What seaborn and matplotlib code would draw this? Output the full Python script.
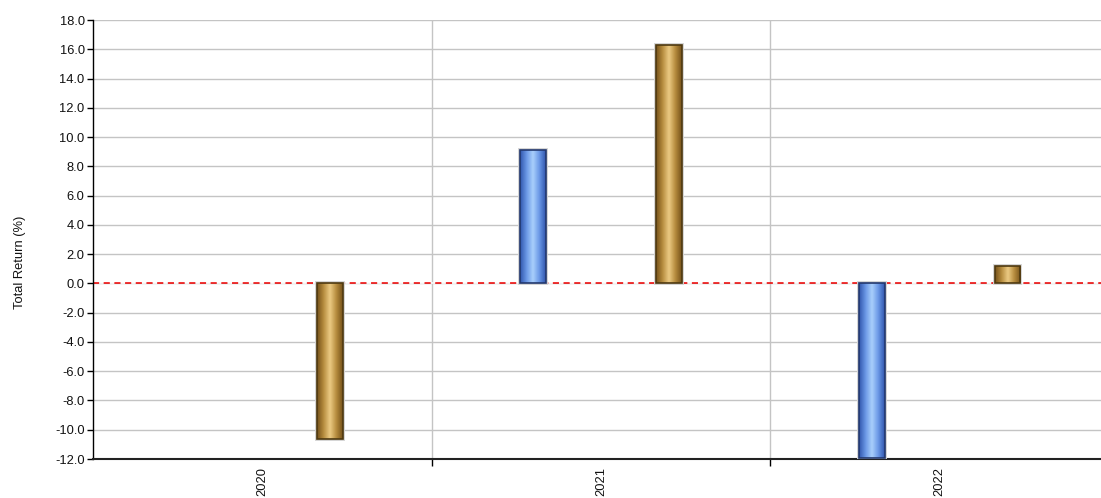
import numpy as np
import pandas as pd
import matplotlib
matplotlib.use("Agg")
import matplotlib.pyplot as plt
from matplotlib.colors import LinearSegmentedColormap
from matplotlib.ticker import MultipleLocator, FixedLocator, FormatStrFormatter
import seaborn as sns

# Annual total returns (%) for the fund and its benchmark
years = ["2020", "2021", "2022"]
fund_returns = [np.nan, 9.1, -11.9]
benchmark_returns = [-10.6, 16.3, 1.2]
series_names = ["Fund", "Benchmark"]

rows = []
for y, f, b in zip(years, fund_returns, benchmark_returns):
    if not np.isnan(f):
        rows.append({"year": y, "series": series_names[0], "ret": f})
    rows.append({"year": y, "series": series_names[1], "ret": b})
df = pd.DataFrame(rows)

sns.set_style("white")
plt.rcParams["font.family"] = ["Liberation Sans", "DejaVu Sans"]

fig = plt.figure(figsize=(11.01, 4.98), dpi=100)
ax = fig.add_axes([93 / 1101, 39 / 498, 1016 / 1101, 439 / 498])

palette = {"Fund": "#5b8be0", "Benchmark": "#c9a050"}
edge_dark = {"Fund": "#23386e", "Benchmark": "#4e3910"}
sns.barplot(data=df, x="year", y="ret", hue="series", order=years,
            hue_order=series_names, palette=palette, saturation=1,
            dodge=True, gap=0.81, width=0.8, legend=False, ax=ax,
            zorder=3, errorbar=None)

# cylindrical shading for each bar, with a faint grey halo
cmaps = {
    "Fund": LinearSegmentedColormap.from_list(
        "blue_cyl", ["#3156ad", "#6a97e6", "#aad0fc", "#6a97e6", "#3156ad"]),
    "Benchmark": LinearSegmentedColormap.from_list(
        "gold_cyl", ["#76521a", "#b68c3e", "#eccb84", "#b68c3e", "#76521a"]),
}
grad = np.linspace(0, 1, 64).reshape(1, -1)
for name, container in zip(series_names, ax.containers):
    for patch in container:
        h = patch.get_height()
        if h == 0 or np.isnan(h):
            continue
        x0, w, y0 = patch.get_x(), patch.get_width(), patch.get_y()
        halo = plt.Rectangle((x0, y0), w, h, facecolor="none",
                             edgecolor="#d4d4d4", linewidth=2.8, zorder=3.2)
        ax.add_patch(halo)
        img = ax.imshow(grad, cmap=cmaps[name], aspect="auto",
                        extent=[x0, x0 + w, y0, y0 + h], zorder=3.5,
                        interpolation="bicubic")
        img.set_clip_path(patch)
        patch.set_facecolor("none")
        patch.set_edgecolor(edge_dark[name])
        patch.set_linewidth(1.2)
        patch.set_zorder(4)

ax.set_xlim(-0.5, 2.5)
ax.set_ylim(-12, 18)
ax.yaxis.set_major_locator(MultipleLocator(2))
ax.yaxis.set_major_formatter(FormatStrFormatter("%.1f"))
ax.xaxis.set_minor_locator(FixedLocator([0.5, 1.5]))

ax.grid(axis="y", which="major", color="#c4c4c4", linewidth=1, zorder=0)
ax.grid(axis="x", which="minor", color="#c4c4c4", linewidth=1, zorder=0)
ax.grid(axis="x", which="major", visible=False)
ax.set_axisbelow(True)

# zero reference line
ax.axhline(0, color="#f00000", linestyle=(0, (4, 3)), gapcolor="white",
           linewidth=1.1, zorder=2.5)

for s in ["top", "right"]:
    ax.spines[s].set_visible(False)
ax.spines["left"].set_color("black")
ax.spines["left"].set_linewidth(1)
ax.spines["bottom"].set_color("#222222")
ax.spines["bottom"].set_linewidth(1.5)

ax.tick_params(axis="y", which="major", direction="out", length=4, width=1,
               color="black", labelsize=9.3, labelcolor="#111111", pad=2, left=True)
ax.tick_params(axis="x", which="major", length=0, labelsize=9.3,
               labelcolor="#111111", pad=6, labelrotation=90, bottom=True)
ax.tick_params(axis="x", which="minor", direction="out", length=5, width=1,
               color="black", bottom=True)

ax.set_xlabel("")
ax.set_ylabel("Total Return (%)", fontsize=9.3, color="#111111")
ax.yaxis.set_label_coords(-0.066, 0.449)

fig.savefig("out.png", dpi=100)
